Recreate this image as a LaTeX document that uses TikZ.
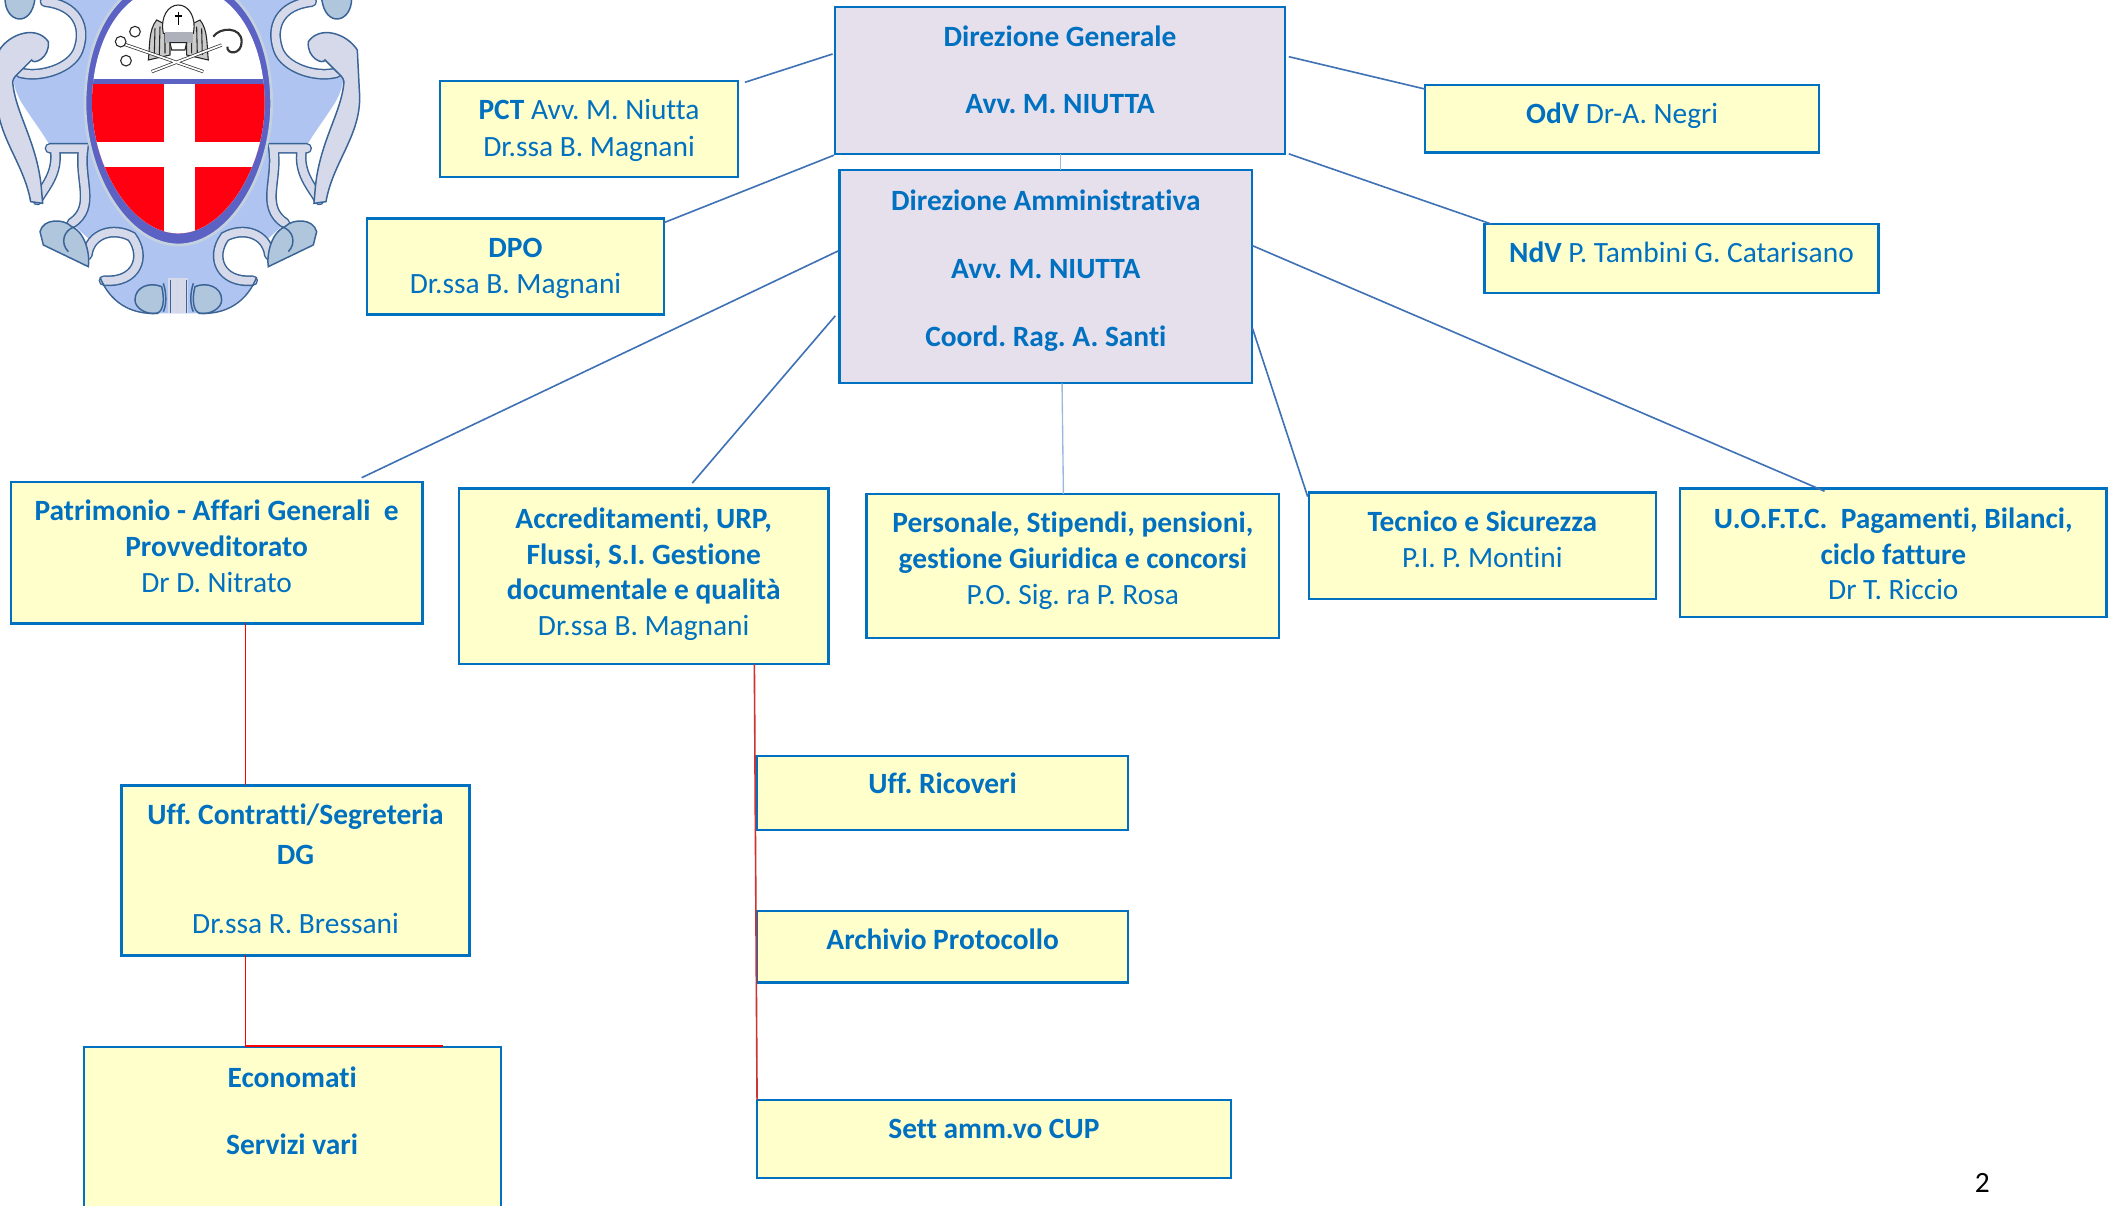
\documentclass[tikz,border=0pt]{standalone}
\usepackage{fontspec}
\usetikzlibrary{calc}
\setmainfont[Ligatures=NoCommon]{Carlito}
\frenchspacing
\definecolor{tblue}{HTML}{0070C0}
\definecolor{boxy}{HTML}{FFFFCC}
\definecolor{boxl}{HTML}{E6E0EC}
\definecolor{linkb}{HTML}{3F72B4}
\definecolor{linkp}{HTML}{9DB8DC}
\definecolor{embody}{HTML}{AFC4F0}
\definecolor{emlav}{HTML}{D5D9EA}
\definecolor{emedge}{HTML}{3A6496}
\definecolor{emsteel}{HTML}{AFC6DC}
\definecolor{emring}{HTML}{5B62C4}
\definecolor{emred}{HTML}{FF0010}
\tikzset{
  orgbox/.style={draw=tblue,line width=1.7pt,anchor=north west,inner sep=0pt,text=tblue,outer sep=0pt},
  yellowbox/.style={orgbox,fill=boxy},
  lilacbox/.style={orgbox,fill=boxl},
  link/.style={draw=linkb,line width=1.2pt},
  paler/.style={draw=linkp,line width=1pt},
  redlink/.style={draw=red,line width=1.2pt},
  dullred/.style={draw=red!60!gray,line width=1.2pt},
  bandout/.style={draw=emedge,line width=8pt,line cap=round},
  bandin/.style={draw=emlav,line width=5.8pt,line cap=round},
  emfill/.style={draw=emedge,line width=1.1pt},
  inkline/.style={draw=black!85,line width=.8pt}
}
% name, style, x, y, w, h, first-baseline offset, pitch, text
\newcommand\orgnode[9]{%
  \node[#2,minimum width=#5pt,minimum height=#6pt] (#1) at (#3,#4)
  {\parbox[c][#6pt][t]{#5pt}{\centering\fontsize{21.8pt}{#8pt}\selectfont
    \vspace*{\dimexpr#7pt-15.2pt\relax}\rule{0pt}{16pt}#9\par}};}
\begin{document}
\begin{tikzpicture}[x=1pt,y=-1pt]
\useasboundingbox (0,0) rectangle (1568,893.6);
\clip (0,0) rectangle (1568,893.6);
% emblem
\begin{scope}[x=0.247pt,y=-0.247pt]
\foreach \s in {1,-1}{
 \begin{scope}[shift={(535,0)},xscale=\s,shift={(-535,0)}]
  \fill[embody] (140,-10) .. controls (230,10) and (255,60) .. (245,130) .. controls (235,190) and (160,230) .. (60,215)
    .. controls (30,220) and (40,260) .. (60,300) .. controls (90,350) and (130,400) .. (150,438) -- (255,438)
    .. controls (240,520) and (270,620) .. (215,670) -- (270,720) .. controls (290,680) and (380,670) .. (420,720)
    .. controls (450,790) and (400,860) .. (305,835) .. controls (330,900) and (390,940) .. (470,940) -- (536,940) -- (536,-10) -- cycle;
  \foreach \st in {bandout,bandin}{
   \draw[\st] (135,5) .. controls (230,15) and (260,80) .. (235,150) .. controls (215,205) and (120,235) .. (60,218);
   \draw[\st] (150,445) -- (250,445) .. controls (235,540) and (290,620) .. (215,670);
   \draw[\st] (165,450) .. controls (175,520) and (135,560) .. (112,600);
   \draw[\st] (262,765) .. controls (270,700) and (340,680) .. (395,710) .. controls (440,770) and (410,850) .. (312,842);
  }
  \draw[emfill,fill=emlav] (-2,150) .. controls (30,100) and (110,75) .. (145,125) .. controls (150,175) and (100,195) .. (95,180) -- (60,215) .. controls (50,225) and (40,232) .. (38,245)
     .. controls (45,340) and (115,430) .. (125,575) -- (128,610) -- (92,605) .. controls (70,480) and (-20,400) .. (-8,270) -- cycle;
  \draw[emfill,fill=emsteel] (15,-5) .. controls (15,70) and (95,85) .. (105,-5) -- cycle;
  \draw[emfill,fill=emsteel] (120,695) .. controls (130,655) and (190,655) .. (215,680) .. controls (260,700) and (270,770) .. (265,800) -- (130,735) -- cycle;
  \draw[emfill] (225,680) .. controls (190,690) and (180,730) .. (205,755);
  \draw[emfill,fill=emsteel] (405,900) .. controls (405,860) and (450,845) .. (485,860) .. controls (495,900) and (490,935) .. (470,940) .. controls (440,945) and (405,925) .. (405,900) -- cycle;
  \draw[emfill] (300,832) .. controls (330,905) and (390,945) .. (475,940);
  \fill[emlav] (505,835) rectangle (536,940);
  \draw[emfill] (490,850) .. controls (500,880) and (500,915) .. (490,935);
  \draw[emedge,line width=.6pt] (512,840) -- (512,938);
 \end{scope}}
 % egg
 \draw[draw=emedge!30!white,line width=2pt,fill=emring] (535,-70) .. controls (340,-70) and (255,120) .. (255,310) .. controls (255,520) and (380,735) .. (535,735)
   .. controls (690,735) and (815,520) .. (815,310) .. controls (815,120) and (730,-70) .. (535,-70) -- cycle;
 \begin{scope}
  \clip (535,-45) .. controls (360,-45) and (276,130) .. (276,310) .. controls (276,500) and (395,700) .. (535,700)
   .. controls (675,700) and (794,500) .. (794,310) .. controls (794,130) and (710,-45) .. (535,-45) -- cycle;
  \fill[white] (250,-80) rectangle (820,740);
  \fill[emred] (250,250) rectangle (820,740);
  \fill[white] (491,250) rectangle (584,740);
  \fill[white] (250,425) rectangle (820,500);
  \fill[emring] (250,237) rectangle (820,251);
 \end{scope}
 % crest
 \foreach \s in {1,-1}{
 \begin{scope}[shift={(535,0)},xscale=\s,shift={(-535,0)}]
  \draw[inkline,fill=gray!40] (470,60) .. controls (445,90) and (450,140) .. (445,180) -- (510,165) -- (510,80) -- cycle;
  \draw[inkline] (465,85) -- (463,165) (480,80) -- (478,165) (495,80) -- (495,160);
 \end{scope}}
 \draw[black!80,line width=2.4pt] (365,130) -- (610,215) (455,215) -- (665,135);
 \draw[white,line width=1.3pt] (365,130) -- (610,215) (455,215) -- (665,135);
 \draw[inkline,fill=white] (362,125) circle (16) (405,95) circle (16) (378,182) circle (16);
 \draw[inkline,fill=white] (490,100) .. controls (480,50) and (505,15) .. (535,15) .. controls (565,15) and (590,50) .. (580,100) -- cycle;
 \fill[gray!45!emlav] (495,97) rectangle (578,128);
 \draw[black,line width=.8pt] (535,35) -- (535,75) (524,48) -- (546,48);
 \draw[inkline,fill=white] (510,128) -- (560,128) -- (555,150) -- (515,150) -- cycle;
 \draw[black!80,line width=1.6pt] (640,110) .. controls (660,80) and (725,80) .. (725,125) .. controls (725,165) and (680,165) .. (682,140);
\end{scope}
% boxes
\orgnode{dg}{lilacbox}{619}{5}{333}{109}{29}{49}{\textbf{Direzione Generale}\\\textbf{Avv. M. NIUTTA}}
\orgnode{da}{lilacbox}{622}{126}{306}{158}{29}{50.5}{\textbf{Direzione Amministrativa}\\\textbf{Avv. M. NIUTTA}\\\textbf{Coord. Rag. A. Santi}}
\orgnode{pct}{yellowbox}{326}{60}{221}{71}{28}{27}{\textbf{PCT} Avv. M. Niutta\\Dr.ssa B. Magnani}
\orgnode{dpo}{yellowbox}{272}{162}{220}{71}{28}{27}{\textbf{DPO}\\Dr.ssa B. Magnani}
\orgnode{odv}{yellowbox}{1056}{63}{292}{50}{28}{27}{\textbf{OdV} Dr-A. Negri}
\orgnode{ndv}{yellowbox}{1100}{166}{292}{51}{28}{27}{\textbf{NdV} P. Tambini G. Catarisano}
\orgnode{pat}{yellowbox}{8}{357}{305}{105}{28}{26.7}{\textbf{Patrimonio - Affari Generali\ \ e}\\\textbf{Provveditorato}\\Dr D. Nitrato}
\orgnode{acc}{yellowbox}{340}{362}{274}{130}{29}{26.4}{\textbf{Accreditamenti, URP,}\\\textbf{Flussi, S.I. Gestione}\\\textbf{documentale e qualità}\\Dr.ssa B. Magnani}
\orgnode{per}{yellowbox}{642}{366}{306}{107}{28}{26.6}{\textbf{Personale, Stipendi, pensioni,}\\\textbf{gestione Giuridica e concorsi}\\P.O. Sig. ra P. Rosa}
\orgnode{tec}{yellowbox}{970}{365}{257}{79}{28}{26.6}{\textbf{Tecnico e Sicurezza}\\P.I. P. Montini}
\orgnode{uof}{yellowbox}{1245}{362}{316}{95}{29}{26.2}{\textbf{U.O.F.T.C.\ \ Pagamenti, Bilanci,}\\\textbf{ciclo fatture}\\Dr T. Riccio}
\orgnode{con}{yellowbox}{90}{582}{258}{126}{28}{30}{\textbf{Uff. Contratti/Segreteria}\\\textbf{DG}\\[21pt]Dr.ssa R. Bressani}
\orgnode{eco}{yellowbox}{62}{776}{309}{140}{29}{50}{\textbf{Economati}\\\textbf{Servizi vari}}
\orgnode{ric}{yellowbox}{561}{560}{275}{55}{27}{27}{\textbf{Uff. Ricoveri}}
\orgnode{arc}{yellowbox}{561}{675}{275}{53}{28}{27}{\textbf{Archivio Protocollo}}
\orgnode{cup}{yellowbox}{561}{815}{351}{58}{28}{27}{\textbf{Sett amm.vo CUP}}
\node[anchor=base,inner sep=0pt,font=\fontsize{21.8pt}{24pt}\selectfont] (pg) at (1469,884) {2};
% connectors
\draw[link] ($(pct.north east)+(5,1)$) -- ($(dg.north west)+(-2,35)$);
\draw[link] ($(dpo.north east)+(0,3)$) -- ($(dg.south west)+(-1,1)$);
\draw[link] ($(dg.north east)+(3,37)$) -- ($(odv.north west)+(0,3)$);
\draw[link] ($(dg.south east)+(3,0)$) -- ($(ndv.north west)+(5,0)$);
\draw[paler] ($(dg.south west)+(167,0)$) -- ($(da.north west)+(164,0)$);
\draw[link] ($(da.north west)+(-1,60)$) -- ($(pat.north west)+(260,-3)$);
\draw[link] ($(da.north west)+(-3,108)$) -- ($(acc.north west)+(173,-4)$);
\draw[paler] ($(da.south west)+(165,0)$) -- ($(per.north west)+(146,0)$);
\draw[link] ($(da.north east)+(0,117)$) -- ($(tec.north west)+(-1,3)$);
\draw[link] ($(da.north east)+(0,56)$) -- ($(uof.north west)+(107,2)$);
\draw[redlink] ($(pat.south west)+(174,0)$) -- ($(con.north west)+(92,0)$);
\draw[redlink] ($(con.south west)+(92,0)$) -- ($(eco.north west)+(120,-1)$) -- ($(eco.north west)+(266,-1)$);
\draw[dullred] ($(acc.south west)+(219,0)$) -- ($(cup.north west)+(0,0)$);
\end{tikzpicture}
\end{document}
